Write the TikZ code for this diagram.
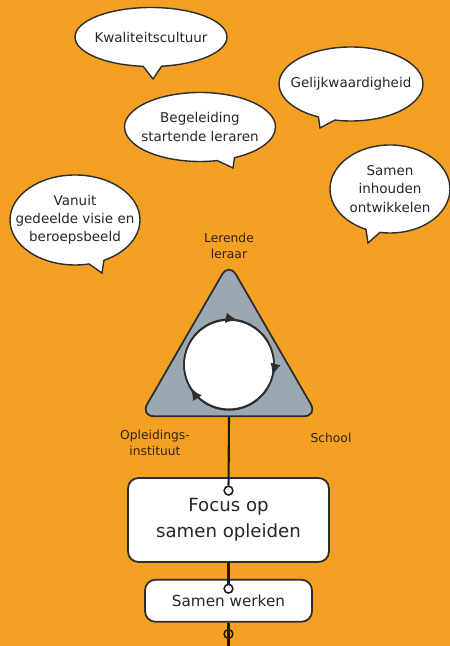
\documentclass[tikz,border=0pt]{standalone}
\usepackage{fontspec}
\setmainfont{DejaVu Sans}
\usetikzlibrary{arrows.meta,positioning,shapes.callouts,shapes.geometric,decorations.markings}
\definecolor{oranje}{RGB}{244,160,34}
\definecolor{grijs}{RGB}{155,168,178}
\definecolor{rand}{RGB}{45,45,45}
\definecolor{bruin}{RGB}{50,35,10}
\tikzset{
    %Define style for speech bubbles
    ballon/.style={
           ellipse callout,
           draw=rand, line width=1.2pt,
           fill=white,
           inner xsep=-14pt, inner ysep=-1pt,
           align=center,
           callout pointer arc=14,
           text=black!85,
           font=\fontsize{11.5}{15.5}\selectfont},
    %Define style for boxes
    blok/.style={
           rectangle,
           rounded corners=9pt,
           draw=rand, line width=1.5pt,
           fill=white,
           align=center,
           text=black!85},
    % Define style for labels
    etiket/.style={align=center, text=bruin, font=\fontsize{10.5}{14}\selectfont},
    % Define line and ring style
    lijn/.style={line width=1.8pt, draw=black!90},
    ring/.style={circle, draw=black!90, line width=1.3pt, inner sep=0pt, minimum size=7.5pt}
}
\begin{document}
\begin{tikzpicture}[x=0.03cm, y=0.03cm, node distance=1cm]
 \fill[oranje] (0,0) rectangle (450,646);
 \useasboundingbox (0,0) rectangle (450,646);
 % speech bubbles
 \node[ballon, minimum width=4.56cm, minimum height=1.77cm, callout absolute pointer={(153,567)}] (kwaliteit) at (151,609) {Kwaliteitscultuur};
 \node[ballon, minimum width=4.32cm, minimum height=2.22cm, callout absolute pointer={(320,518)}] (gelijk) at (351,562) {Gelijkwaardigheid};
 \node[ballon, minimum width=4.53cm, minimum height=2.07cm, callout absolute pointer={(233,478)}] (begeleiding) at (200,519) {Begeleiding\\startende leraren};
 \node[ballon, minimum width=3.6cm, minimum height=2.64cm, callout absolute pointer={(368,403)}] (inhouden) at (390,457) {Samen\\inhouden\\ontwikkelen};
 \node[ballon, minimum width=3.9cm, minimum height=2.7cm, callout absolute pointer={(102,373)}] (visie) at (75,426) {Vanuit\\gedeelde visie en\\beroepsbeeld};
 % triangle with cycle
 \node[regular polygon, regular polygon sides=3, minimum size=6.15cm, draw=rand, line width=1.5pt, fill=grijs, rounded corners=12pt] (driehoek) at (229,281) {};
 \node[circle, draw=rand, line width=1.3pt, fill=white, minimum size=2.7cm] (cyclus) at (driehoek.center) {};
 \draw[draw=rand, line width=1.3pt, postaction={decorate}, decoration={markings,
     mark=at position 0.03 with {\arrow{Latex[length=10pt,width=9pt]}},
     mark=at position 0.29 with {\arrow{Latex[length=10pt,width=9pt]}},
     mark=at position 0.66 with {\arrow{Latex[length=10pt,width=9pt]}}}]
     (cyclus.north) arc[start angle=90, end angle=-270, radius=1.35cm];
 \node[etiket] (lerend) at (229,400) {Lerende\\leraar};
 \node[etiket] (instituut) at (155,203) {Opleidings-\\instituut};
 \node[etiket] (school) at (331,208) {School};
 % boxes
 \node[blok, minimum width=6.03cm, minimum height=2.52cm, font=\fontsize{15.5}{22}\selectfont] (focus) at (228.5,126) {Focus op\\samen opleiden};
 \node[blok, minimum width=5.01cm, minimum height=1.26cm, below=0.48cm of focus, font=\fontsize{13}{15}\selectfont] (samen) {Samen werken};
 \node[ring, below=0.25cm of focus.north] (ring1) {};
 \node[ring, below=0.14cm of samen.north] (ring2) {};
 \coordinate (einde) at (samen.south |- 0,0);
 \draw[lijn] (driehoek.south) -- (ring1);
 \draw[lijn] (focus.south) -- (ring2);
 \draw[lijn] (samen.south) -- (einde);
 \node[ring] (ring3) at (samen.south |- 0,12) {};
\end{tikzpicture}
\end{document}
